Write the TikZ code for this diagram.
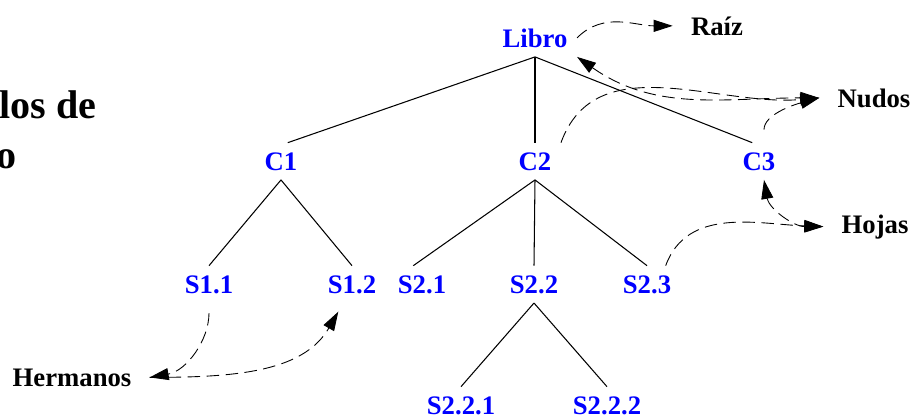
\documentclass[tikz,border=0pt]{standalone}
\usepackage{fontspec}
\setmainfont{Liberation Serif}
\usetikzlibrary{arrows.meta}

\begin{document}
\begin{tikzpicture}[
    x=0.02cm, y=-0.02cm,
    >={Triangle[length=0.38cm, width=0.24cm]},
    item/.style={text=blue, font=\fontsize{15.2}{18}\selectfont\bfseries, inner sep=0.186cm, anchor=base},
    term/.style={font=\fontsize{15.2}{18}\selectfont\bfseries, inner sep=0.36cm, anchor=base},
    heading/.style={font=\fontsize{22.8}{27}\selectfont\bfseries, inner sep=0pt, anchor=base east},
    branch/.style={line width=0.6pt},
    link/.style={->, line width=0.5pt, dash pattern=on 0.25cm off 0.13cm}
]
    \useasboundingbox (0,0) rectangle (913,416);

    % Heading (cut at the left)
    \node[heading] (head1) at (97,118) {los de};
    \node[heading] (head2) at (17,168) {o};

    % Tree
    \node[item] (libro) at (535,47) {Libro};
    \node[item] (c1) at (281,170) {C1};
    \node[item] (c2) at (535,170) {C2};
    \node[item] (c3) at (759,170) {C3};
    \node[item] (s11) at (209,293) {S1.1};
    \node[item] (s12) at (352,293) {S1.2};
    \node[item] (s21) at (422,293) {S2.1};
    \node[item] (s22) at (534,293) {S2.2};
    \node[item] (s23) at (647,293) {S2.3};
    \node[item] (s221) at (461,414) {S2.2.1};
    \node[item] (s222) at (607,414) {S2.2.2};

    % Terms
    \node[term] (raiz) at (717,35) {Raíz};
    \node[term] (nudos) at (874,107) {Nudos};
    \node[term] (hojas) at (875,233) {Hojas};
    \node[term] (hermanos) at (72,386) {Hermanos};

    % Branches
    \draw[branch] (libro.south) -- (c1.70);
    \draw[branch] (libro.south) -- (c2.north);
    \draw[branch] (libro.south) -- (c3.110);
    \draw[branch] (c1.south) -- (s11.north);
    \draw[branch] (c1.south) -- (s12.north);
    \draw[branch] (c2.south) -- (s21.115);
    \draw[branch] (c2.south) -- (s22.north);
    \draw[branch] (c2.south) -- (s23.north);
    \draw[branch] (s22.south) -- (s221.north);
    \draw[branch] (s22.south) -- (s222.north);

    % Dashed pointers
    \draw[link] (libro.east) to[out=45, in=180] (raiz.west);
    \draw[link, <->] (libro.south east) to[out=-35, in=180] (nudos.west);
    \draw[link] (c2.north east) to[out=70, in=185] (nudos.west);
    \draw[link, shorten <=0.26cm] (c3.75) to[out=90, in=195] (nudos.west);
    \draw[link, <->] (c3.-75) to[out=-80, in=180] (hojas.west);
    \draw[link] (s23.45) to[out=70, in=178] (hojas.west);
    \draw[link, shorten <=0.2cm] (s11.south) to[out=-90, in=10] (hermanos.east);
    \draw[link, shorten >=0.2cm] (hermanos.east) to[out=0, in=-120] (s12.-115);
\end{tikzpicture}
\end{document}
